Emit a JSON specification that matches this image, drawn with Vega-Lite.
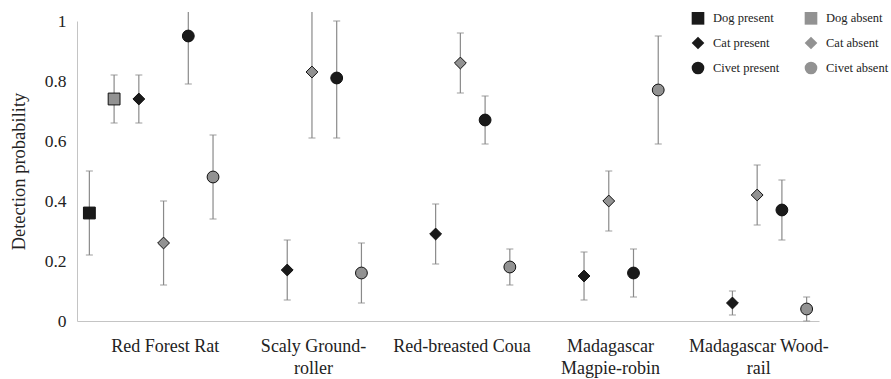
{
  "$schema": "https://vega.github.io/schema/vega-lite/v6.json",
  "width": 742,
  "height": 300,
  "autosize": {"type": "none"},
  "padding": {"left": 77, "top": 21, "right": 72, "bottom": 58},
  "background": "white",
  "config": {
    "view": {"stroke": null},
    "font": "Liberation Serif",
    "axis": {"labelFont": "Liberation Serif", "titleFont": "Liberation Serif", "labelColor": "#222", "titleColor": "#222", "grid": false, "ticks": false, "domainColor": "#c4c4c4"}
  },
  "data": {
    "values": [
      {"species": "Red Forest Rat", "condition": "Dog present", "p": 0.36, "lower": 0.22, "upper": 0.50},
      {"species": "Red Forest Rat", "condition": "Dog absent", "p": 0.74, "lower": 0.66, "upper": 0.82},
      {"species": "Red Forest Rat", "condition": "Cat present", "p": 0.74, "lower": 0.66, "upper": 0.82},
      {"species": "Red Forest Rat", "condition": "Cat absent", "p": 0.26, "lower": 0.12, "upper": 0.40},
      {"species": "Red Forest Rat", "condition": "Civet present", "p": 0.95, "lower": 0.79, "upper": 1.03},
      {"species": "Red Forest Rat", "condition": "Civet absent", "p": 0.48, "lower": 0.34, "upper": 0.62},
      {"species": "Scaly Ground-roller", "condition": "Cat present", "p": 0.17, "lower": 0.07, "upper": 0.27},
      {"species": "Scaly Ground-roller", "condition": "Cat absent", "p": 0.83, "lower": 0.61, "upper": 1.03},
      {"species": "Scaly Ground-roller", "condition": "Civet present", "p": 0.81, "lower": 0.61, "upper": 1.0},
      {"species": "Scaly Ground-roller", "condition": "Civet absent", "p": 0.16, "lower": 0.06, "upper": 0.26},
      {"species": "Red-breasted Coua", "condition": "Cat present", "p": 0.29, "lower": 0.19, "upper": 0.39},
      {"species": "Red-breasted Coua", "condition": "Cat absent", "p": 0.86, "lower": 0.76, "upper": 0.96},
      {"species": "Red-breasted Coua", "condition": "Civet present", "p": 0.67, "lower": 0.59, "upper": 0.75},
      {"species": "Red-breasted Coua", "condition": "Civet absent", "p": 0.18, "lower": 0.12, "upper": 0.24},
      {"species": "Madagascar Magpie-robin", "condition": "Cat present", "p": 0.15, "lower": 0.07, "upper": 0.23},
      {"species": "Madagascar Magpie-robin", "condition": "Cat absent", "p": 0.40, "lower": 0.30, "upper": 0.50},
      {"species": "Madagascar Magpie-robin", "condition": "Civet present", "p": 0.16, "lower": 0.08, "upper": 0.24},
      {"species": "Madagascar Magpie-robin", "condition": "Civet absent", "p": 0.77, "lower": 0.59, "upper": 0.95},
      {"species": "Madagascar Wood-rail", "condition": "Cat present", "p": 0.06, "lower": 0.02, "upper": 0.10},
      {"species": "Madagascar Wood-rail", "condition": "Cat absent", "p": 0.42, "lower": 0.32, "upper": 0.52},
      {"species": "Madagascar Wood-rail", "condition": "Civet present", "p": 0.37, "lower": 0.27, "upper": 0.47},
      {"species": "Madagascar Wood-rail", "condition": "Civet absent", "p": 0.04, "lower": 0.0, "upper": 0.08}
    ]
  },
  "encoding": {
    "x": {
      "field": "species", "type": "nominal", "sort": null,
      "scale": {"domain": ["Red Forest Rat", "Scaly Ground-roller", "Red-breasted Coua", "Madagascar Magpie-robin", "Madagascar Wood-rail"], "paddingInner": 0, "paddingOuter": 0},
      "axis": {
        "title": null, "labelAngle": 0, "labelFontSize": 18, "labelPadding": 16, "labelOffset": 14, "labelLineHeight": 22,
        "labelExpr": "datum.label == 'Scaly Ground-roller' ? ['Scaly Ground-', 'roller'] : datum.label == 'Madagascar Magpie-robin' ? ['Madagascar', 'Magpie-robin'] : datum.label == 'Madagascar Wood-rail' ? ['Madagascar Wood-', 'rail'] : datum.label"
      }
    },
    "xOffset": {
      "field": "condition", "type": "nominal",
      "scale": {"domain": ["Dog present", "Dog absent", "Cat present", "Cat absent", "Civet present", "Civet absent"], "paddingInner": 0, "paddingOuter": 0}
    }
  },
  "layer": [
    {
      "mark": {"type": "rule", "color": "#8a8a8a", "strokeWidth": 1.2, "clip": false},
      "encoding": {
        "y": {"field": "lower", "type": "quantitative"},
        "y2": {"field": "upper"}
      }
    },
    {
      "mark": {"type": "tick", "color": "#8a8a8a", "size": 7, "thickness": 1.2},
      "encoding": {"y": {"field": "lower", "type": "quantitative"}}
    },
    {
      "transform": [{"filter": "datum.upper <= 1.0"}],
      "mark": {"type": "tick", "color": "#8a8a8a", "size": 7, "thickness": 1.2},
      "encoding": {"y": {"field": "upper", "type": "quantitative"}}
    },
    {
      "mark": {"type": "point", "filled": true, "stroke": "#111", "strokeWidth": 1, "size": 140, "opacity": 1},
      "encoding": {
        "y": {
          "field": "p", "type": "quantitative",
          "scale": {"domain": [0, 1], "nice": false, "zero": true},
          "axis": {"title": "Detection probability", "titleFontSize": 18.5, "titleFontWeight": "normal", "titlePadding": 16, "labelFontSize": 17.5, "labelPadding": 11, "values": [0, 0.2, 0.4, 0.6, 0.8, 1], "format": ".1~f", "labelFlush": false}
        },
        "shape": {
          "field": "condition", "type": "nominal",
          "scale": {"domain": ["Dog present", "Cat present", "Civet present", "Dog absent", "Cat absent", "Civet absent"], "range": ["square", "diamond", "circle", "square", "diamond", "circle"]},
          "legend": {"title": null, "orient": "none", "legendX": 614, "legendY": -10, "columns": 2, "labelFont": "Liberation Serif", "labelFontSize": 12.5, "labelColor": "#222", "symbolSize": 160, "symbolStrokeColor": "#111", "symbolStrokeWidth": 1, "rowPadding": 7, "columnPadding": 22, "labelOffset": 8, "symbolOpacity": 1}
        },
        "fill": {
          "field": "condition", "type": "nominal",
          "scale": {"domain": ["Dog present", "Cat present", "Civet present", "Dog absent", "Cat absent", "Civet absent"], "range": ["#1a1a1a", "#1a1a1a", "#1a1a1a", "#929292", "#929292", "#929292"]}
        }
      }
    }
  ]
}
